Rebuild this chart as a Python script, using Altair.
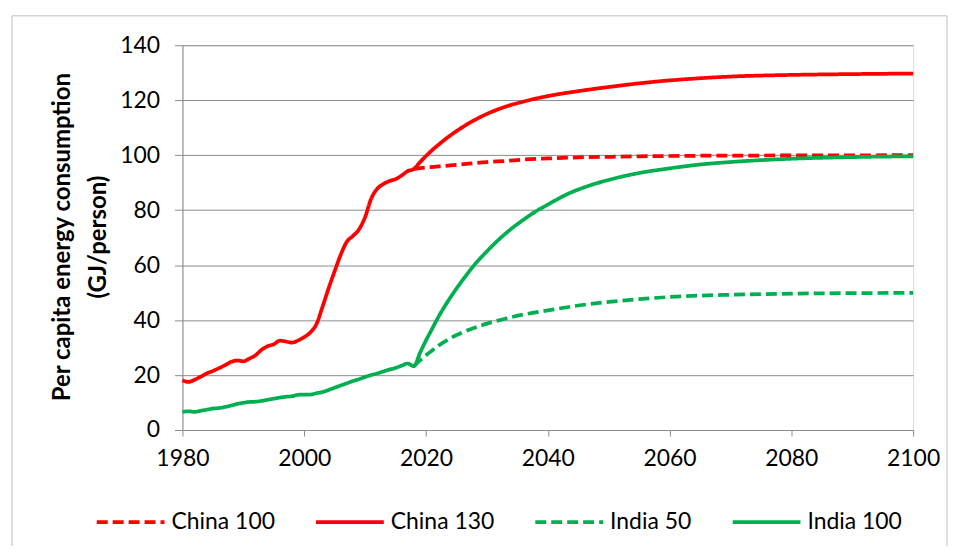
import altair as alt
import pandas as pd

# ---- data ----
hist_years = list(range(1980, 2019))
china_hist = [18.1, 17.5, 18.3, 19.4, 20.6, 21.5, 22.5, 23.6, 24.8, 25.3,
              25.0, 26.0, 27.2, 29.2, 30.5, 31.2, 32.5, 32.2, 31.8, 32.6,
              33.8, 35.5, 38.5, 44.8, 51.5, 57.8, 63.8, 68.5, 70.6, 73.0,
              77.5, 84.2, 87.8, 89.5, 90.6, 91.3, 92.6, 94.2, 95.0]
india_hist = [6.6, 6.8, 6.6, 7.0, 7.4, 7.8, 8.0, 8.4, 8.9, 9.5,
              9.9, 10.2, 10.3, 10.6, 11.0, 11.4, 11.8, 12.1, 12.3, 12.8,
              12.9, 12.9, 13.4, 13.8, 14.6, 15.4, 16.2, 17.0, 17.8, 18.5,
              19.3, 20.0, 20.6, 21.3, 22.0, 22.6, 23.4, 24.2, 23.2]

china_130_years = [2019, 2020, 2021, 2022, 2024, 2026, 2028, 2030, 2033, 2036,
                   2040, 2045, 2050, 2057, 2065, 2070, 2080, 2090, 2100]
china_130 = [97.4, 99.7, 101.8, 103.7, 107.2, 110.2, 112.8, 115.0, 117.6, 119.5,
             121.5, 123.3, 124.8, 126.6, 128.0, 128.6, 129.2, 129.5, 129.7]

china_100_years = [2020, 2022, 2024, 2027, 2030, 2033, 2036, 2040, 2045, 2050,
                   2055, 2060, 2065, 2070, 2080, 2090, 2100]
china_100 = [95.5, 95.9, 96.3, 96.9, 97.5, 97.9, 98.4, 98.8, 99.2, 99.4,
             99.6, 99.7, 99.8, 99.85, 99.9, 99.95, 100.0]

india_100_years = [2019, 2020, 2021, 2022, 2024, 2026, 2028, 2030, 2032, 2034,
                   2036, 2038, 2040, 2043, 2046, 2050, 2055, 2060, 2065, 2070,
                   2080, 2090, 2100]
india_100 = [28.0, 32.6, 36.8, 41.0, 48.2, 54.5, 60.2, 65.0, 69.4, 73.2,
             76.5, 79.5, 82.0, 85.6, 88.3, 91.0, 93.5, 95.2, 96.6, 97.5,
             98.7, 99.3, 99.6]

india_50_years = [2019, 2020, 2021, 2022, 2024, 2026, 2028, 2030, 2033, 2036,
                  2040, 2045, 2050, 2055, 2060, 2065, 2070, 2080, 2090, 2100]
india_50 = [25.3, 27.2, 28.9, 30.6, 33.4, 35.5, 37.2, 38.7, 40.5, 42.0,
            43.5, 45.3, 46.6, 47.6, 48.4, 48.9, 49.2, 49.6, 49.8, 49.9]

series_names = ["China 100", "China 130", "India 50", "India 100"]
series_colors = ["#FF0000", "#FF0000", "#00B050", "#00B050"]
series_dash = [[11, 5], [1, 0], [11, 5], [1, 0]]

x_ticks = [1980, 2000, 2020, 2040, 2060, 2080, 2100]
y_ticks = [0, 20, 40, 60, 80, 100, 120, 140]

# ---- build long table ----
rows = []
def add(name, years, vals):
    for y, v in zip(years, vals):
        rows.append({"year": y, "value": v, "series": name})

add("China 100", [hist_years[-1]] + china_100_years, [china_hist[-1]] + china_100)
add("China 130", hist_years + china_130_years, china_hist + china_130)
add("India 50", [hist_years[-1]] + india_50_years, [india_hist[-1]] + india_50)
add("India 100", hist_years + india_100_years, india_hist + india_100)
df = pd.DataFrame(rows)
df["order"] = df["series"].map({n: i for i, n in enumerate(series_names)})

FONT = "Lato"
GRID = "#8c8c8c"

legend_cfg = dict(title=None, orient="none", legendX=-88, legendY=442.5,
                  direction="horizontal", columns=4, columnPadding=33,
                  labelFont=FONT, labelFontSize=23, labelColor="black",
                  symbolSize=4624, symbolStrokeWidth=3.75, labelOffset=5,
                  symbolType="stroke")

lines = alt.Chart(df).mark_line(strokeWidth=3.75, interpolate="monotone", strokeCap="butt").encode(
    x=alt.X("year:Q", scale=alt.Scale(domain=[1980, 2100], nice=False),
            axis=alt.Axis(values=x_ticks, format="d", title=None, grid=False,
                          tickSize=6, labelPadding=12, labelFontSize=23, labelFont=FONT,
                          labelColor="black", domainColor=GRID, tickColor=GRID,
                          labelFlush=False)),
    y=alt.Y("value:Q", scale=alt.Scale(domain=[0, 140], nice=False),
            axis=alt.Axis(values=y_ticks, title=["Per capita energy consumption", "(GJ/person)"],
                          titleFont=FONT, titleFontSize=24, titleFontWeight="bold",
                          titleColor="black", titleLineHeight=36, titleAngle=270,
                          titleX=-120, titleY=192, titleAlign="center", titleBaseline="middle",
                          tickSize=8, labelPadding=15, labelFontSize=23, labelFont=FONT,
                          labelColor="black", domainColor=GRID, tickColor=GRID,
                          gridColor=GRID, gridWidth=1)),
    color=alt.Color("series:N", scale=alt.Scale(domain=series_names, range=series_colors),
                    legend=alt.Legend(**legend_cfg)),
    strokeDash=alt.StrokeDash("series:N", scale=alt.Scale(domain=series_names, range=series_dash),
                              legend=alt.Legend(**legend_cfg)),
    detail="series:N",
    order="order:Q",
)

frame = alt.Chart(alt.Data(values=[{}])).mark_rect(fill="transparent", stroke="#bfbfbf", strokeWidth=1).encode(
    x=alt.value(-171), x2=alt.value(767), y=alt.value(-29.5), y2=alt.value(600)
)

chart = alt.layer(frame, lines).properties(
    width=733, height=386,
    autosize=alt.AutoSizeParams(type="none"),
    padding={"left": 175, "top": 36.5, "right": 36, "bottom": 115},
).configure_view(stroke=None).configure(background="white")

chart.save("out.html", embed_options={"renderer": "svg", "actions": False})
